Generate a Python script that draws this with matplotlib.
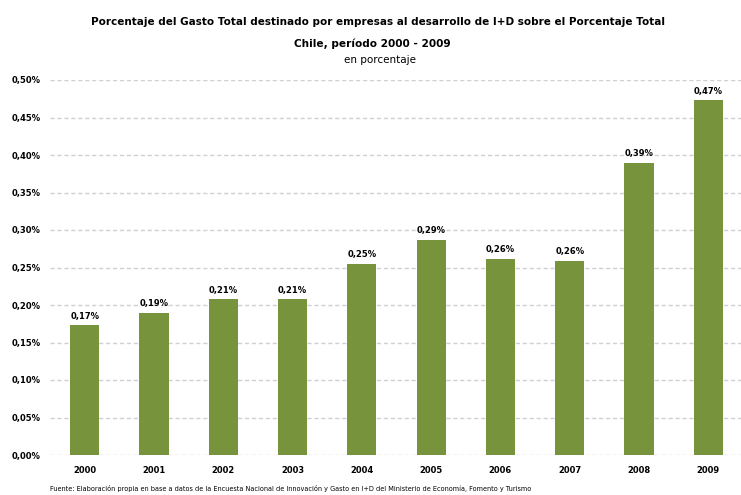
import matplotlib
matplotlib.use("Agg")
import matplotlib.pyplot as plt
from matplotlib.ticker import FuncFormatter

years = ["2000", "2001", "2002", "2003", "2004", "2005", "2006", "2007", "2008", "2009"]
values = [0.173, 0.190, 0.208, 0.208, 0.255, 0.287, 0.262, 0.259, 0.390, 0.473]
value_labels = ["0,17%", "0,19%", "0,21%", "0,21%", "0,25%", "0,29%", "0,26%", "0,26%", "0,39%", "0,47%"]
yticks = [0.0, 0.05, 0.10, 0.15, 0.20, 0.25, 0.30, 0.35, 0.40, 0.45, 0.50]

title1 = "Porcentaje del Gasto Total destinado por empresas al desarrollo de I+D sobre el Porcentaje Total"
title2 = "Chile, período 2000 - 2009"
title3 = "en porcentaje"
source = ("Fuente: Elaboración propia en base a datos de la Encuesta Nacional de Innovación y Gasto en I+D "
          "del Ministerio de Economía, Fomento y Turismo")

fig = plt.figure(figsize=(7.41, 4.95), dpi=100)
ax = fig.add_axes([50/741, 1-455/495, 693/741, 375/495])

x = list(range(len(years)))
ax.bar(x, values, width=0.42, color="#77933C", zorder=3)
for xi, v, lab in zip(x, values, value_labels):
    ax.text(xi, v + 0.006, lab, ha="center", va="bottom", fontsize=6, fontweight="bold", color="black")

ax.set_xlim(-0.5, len(years) - 0.5)
ax.set_ylim(0, 0.5)
ax.set_yticks(yticks)
ax.yaxis.set_major_formatter(FuncFormatter(lambda v, p: f"{v:.2f}%".replace(".", ",")))
ax.set_xticks(x)
ax.set_xticklabels(years, fontsize=6, fontweight="bold")
ax.tick_params(axis="y", labelsize=6, length=0, pad=7)
ax.tick_params(axis="x", length=0, pad=8)
for lab in ax.get_yticklabels():
    lab.set_fontweight("bold")
ax.grid(axis="y", color="#D0D0D0", linestyle=(0, (3, 2)), linewidth=1, zorder=0)
for s in ax.spines.values():
    s.set_visible(False)

fig.text(378/741, 1-22/495, title1, ha="center", va="center", fontsize=7.5, fontweight="bold")
fig.text(372/741, 1-44/495, title2, ha="center", va="center", fontsize=7.6, fontweight="bold")
fig.text(380/741, 1-60/495, title3, ha="center", va="center", fontsize=7.5)
fig.text(50/741, 1-489/495, source, ha="left", va="center", fontsize=4.7)

fig.savefig("out.png", dpi=100)
